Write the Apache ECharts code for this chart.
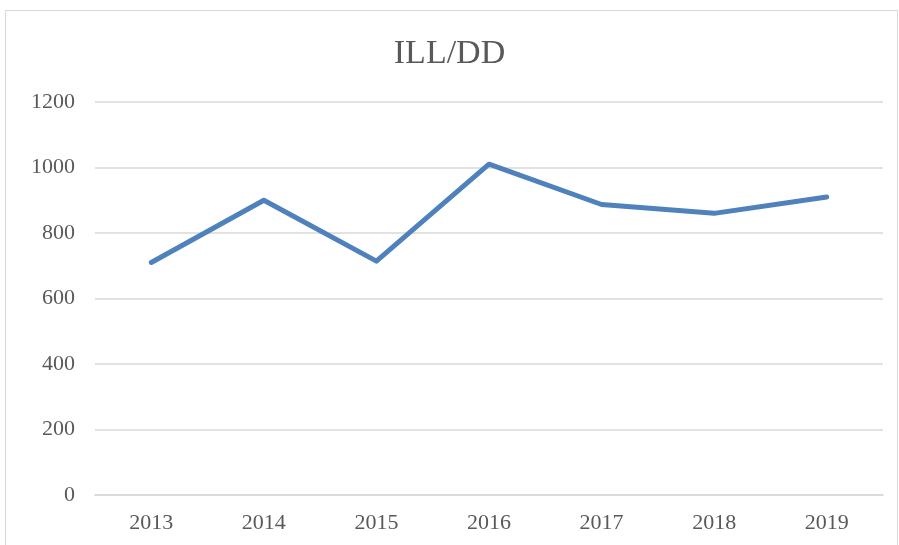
<!DOCTYPE html>
<html>
<head>
<meta charset="utf-8">
<script src="https://cdn.jsdelivr.net/npm/echarts@6/dist/echarts.min.js"></script>
<style>
  html, body { margin: 0; padding: 0; background: #fff; }
  #frame { position: absolute; left: 5px; top: 10px; width: 893px; height: 545px; border: 1px solid #d9d9d9; box-sizing: border-box; }
  #chart { position: absolute; left: 0; top: 0; width: 899px; height: 545px; }
</style>
</head>
<body>
<div id="frame"></div>
<div id="chart"></div>
<script>
// categories and values
const years = ['2013', '2014', '2015', '2016', '2017', '2018', '2019']
const illdd = [710, 900, 714, 1010, 887, 860, 910]
const yTicks = [0, 200, 400, 600, 800, 1000, 1200]

let myChart = echarts.init(document.getElementById('chart'))
myChart.setOption({
  animation: false,
  title: {
    text: 'ILL/DD',
    left: 'center',
    top: 32,
    textStyle: { fontFamily: 'Liberation Serif', fontSize: 34, fontWeight: 'normal', color: '#595959' }
  },
  grid: { left: 95, right: 16, top: 102, bottom: 50 },
  xAxis: {
    type: 'category',
    data: years,
    boundaryGap: true,
    axisLine: { lineStyle: { color: '#d9d9d9', width: 1.5 } },
    axisTick: { show: false },
    axisLabel: { fontFamily: 'Liberation Serif', fontSize: 22, color: '#595959', margin: 17 }
  },
  yAxis: {
    type: 'value',
    min: yTicks[0],
    max: yTicks[yTicks.length - 1],
    interval: 200,
    axisLine: { show: false },
    axisTick: { show: false },
    splitLine: { lineStyle: { color: '#d9d9d9', width: 1.5 } },
    axisLabel: {
      fontFamily: 'Liberation Serif', fontSize: 22, color: '#595959', margin: 20,
      formatter: function (v) { return String(v) }
    }
  },
  series: [{
    type: 'line',
    data: illdd,
    symbol: 'none',
    lineStyle: { color: '#4f81bd', width: 5, cap: 'round', join: 'round' }
  }]
})
window.addEventListener('resize', function () {
  myChart.resize()
})
</script>
</body>
</html>
